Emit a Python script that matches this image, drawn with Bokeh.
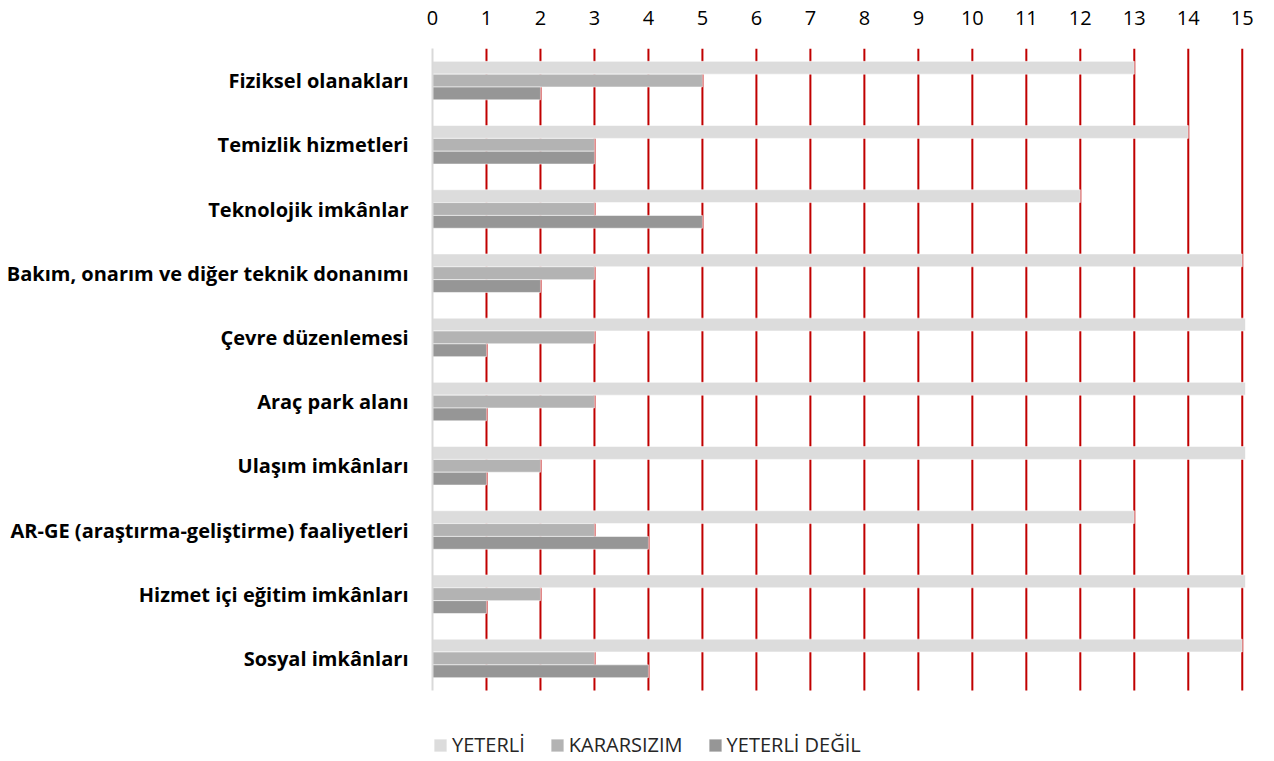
from bokeh.plotting import figure
from bokeh.models import (ColumnDataSource, Range1d, FixedTicker, Legend, LegendItem)
from bokeh.transform import dodge
from bokeh.embed import file_html
from bokeh.resources import INLINE

categories = [
    "Fiziksel olanakları",
    "Temizlik hizmetleri",
    "Teknolojik imkânlar",
    "Bakım, onarım ve diğer teknik donanımı",
    "Çevre düzenlemesi",
    "Araç park alanı",
    "Ulaşım imkânları",
    "AR-GE (araştırma-geliştirme) faaliyetleri",
    "Hizmet içi eğitim imkânları",
    "Sosyal imkânları",
]
yeterli = [13, 14, 12, 15, 16, 16, 16, 13, 16, 15]
kararsizim = [5, 3, 3, 3, 3, 3, 2, 3, 2, 3]
yeterli_degil = [2, 3, 5, 2, 1, 1, 1, 4, 1, 4]
series_names = ["YETERLİ", "KARARSIZIM", "YETERLİ DEĞİL"]
series_colors = ["#DCDCDC", "#B3B3B3", "#969696"]
x_ticks = list(range(0, 16))

FONT = "Open Sans"

# category slots, top to bottom (0, -1, -2, ...)
pos = [-i for i in range(len(categories))]
source = ColumnDataSource(dict(pos=pos, cat=categories, y1=yeterli, y2=kararsizim,
                               y3=yeterli_degil))

cat_top = max(pos) + 0.5
cat_bottom = min(pos) - 0.5

p = figure(
    x_range=Range1d(0, 15.06),
    y_range=Range1d(cat_bottom - 1.09, cat_top),
    frame_width=813, frame_height=712,
    min_border_left=432, min_border_right=10, min_border_top=48, min_border_bottom=0,
    x_axis_location="above",
    output_backend="svg", toolbar_location=None,
)
p.outline_line_color = None
p.background_fill_color = "white"
p.border_fill_color = "white"

# red vertical gridlines over the category area only
grid_x = x_ticks[1:]
p.segment(x0=grid_x, x1=grid_x, y0=[cat_bottom] * len(grid_x), y1=[cat_top] * len(grid_x),
          line_color="#C00000", line_width=2)

offsets = [0.2, 0.0, -0.2]
cols = ["y1", "y2", "y3"]
renderers = []
for col, off, color in zip(cols, offsets, series_colors):
    r = p.hbar(y=dodge("pos", off), right=col, left=0, height=0.2,
               source=source, fill_color=color, line_color="white", line_alpha=0.55,
               line_width=1)
    renderers.append(r)

# x axis (top)
p.xaxis.ticker = FixedTicker(ticks=x_ticks)
p.xaxis.axis_line_color = None
p.xaxis.major_tick_line_color = None
p.xaxis.minor_tick_line_color = None
p.xaxis.major_label_text_font = FONT
p.xaxis.major_label_text_font_size = "20px"
p.xaxis.major_label_text_color = "#000000"
p.xaxis.major_label_standoff = 18

# y axis with category names
p.yaxis.ticker = FixedTicker(ticks=pos)
p.yaxis.major_label_overrides = {v: c for v, c in zip(pos, categories)}
p.yaxis.bounds = (cat_bottom, cat_top)
p.yaxis.axis_line_color = "#D9D9D9"
p.yaxis.axis_line_width = 2
p.yaxis.major_tick_line_color = None
p.yaxis.minor_tick_line_color = None
p.yaxis.major_label_text_font = FONT
p.yaxis.major_label_text_font_size = "20px"
p.yaxis.major_label_text_font_style = "bold"
p.yaxis.major_label_text_color = "#000000"
p.yaxis.major_label_standoff = 18

p.xgrid.grid_line_color = None
p.ygrid.grid_line_color = None

legend = Legend(
    items=[LegendItem(label=n, renderers=[r]) for n, r in zip(series_names, renderers)],
    orientation="horizontal", location=(0, 2),
    glyph_width=16, glyph_height=16, label_standoff=4, spacing=24,
    label_text_font=FONT, label_text_font_size="20px", label_text_color="#262626",
    border_line_color=None, background_fill_alpha=0, margin=0, padding=0,
)
p.add_layout(legend)

open("out.html", "w").write(file_html(p, INLINE))
